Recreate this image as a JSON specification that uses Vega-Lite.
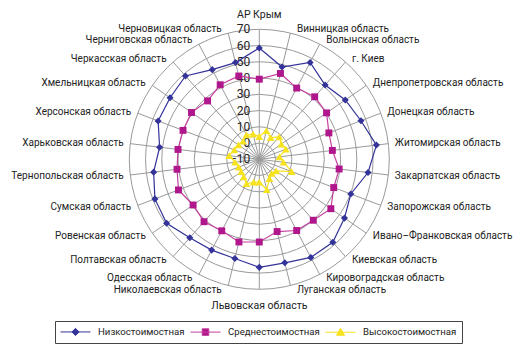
{
  "$schema": "https://vega.github.io/schema/vega-lite/v6.json",
  "width": 520,
  "height": 352,
  "padding": 0,
  "autosize": {"type": "none"},
  "background": "white",
  "config": {"view": {"stroke": null}, "font": "Roboto"},
  "datasets": {
    "regions": [
      {"i": 0, "region": "АР Крым", "Низкостоимостная": 58.5, "Среднестоимостная": 39.3, "Высокостоимостная": 4},
      {"i": 1, "region": "Винницкая область", "Низкостоимостная": 48.5, "Среднестоимостная": 44.4, "Высокостоимостная": 8.2},
      {"i": 2, "region": "Волынская область", "Низкостоимостная": 57.3, "Среднестоимостная": 39.5, "Высокостоимостная": 5},
      {"i": 3, "region": "г. Киев", "Низкостоимостная": 51.1, "Среднестоимостная": 41.4, "Высокостоимостная": 8.5},
      {"i": 4, "region": "Днепропетровская область", "Низкостоимостная": 54.3, "Среднестоимостная": 40.3, "Высокостоимостная": 6.5},
      {"i": 5, "region": "Донецкая область", "Низкостоимостная": 56.9, "Среднестоимостная": 35.8, "Высокостоимостная": 7.5},
      {"i": 6, "region": "Житомирская область", "Низкостоимостная": 62.6, "Среднестоимостная": 35.3, "Высокостоимостная": 2.5},
      {"i": 7, "region": "Закарпатская область", "Низкостоимостная": 57.4, "Среднестоимостная": 39.5, "Высокостоимостная": 5},
      {"i": 8, "region": "Запорожская область", "Низкостоимостная": 50.2, "Среднестоимостная": 39.0, "Высокостоимостная": 11.3},
      {"i": 9, "region": "Ивано–Франковская область", "Низкостоимостная": 53.7, "Среднестоимостная": 43.5, "Высокостоимостная": 2.5},
      {"i": 10, "region": "Киевская область", "Низкостоимостная": 58.2, "Среднестоимостная": 40.1, "Высокостоимостная": 1.5},
      {"i": 11, "region": "Кировоградская область", "Низкостоимостная": 58.2, "Среднестоимостная": 39.5, "Высокостоимостная": 3.5},
      {"i": 12, "region": "Луганская область", "Низкостоимостная": 55.6, "Среднестоимостная": 35.8, "Высокостоимостная": 9.3},
      {"i": 13, "region": "Львовская область", "Низкостоимостная": 56.5, "Среднестоимостная": 40.9, "Высокостоимостная": 4},
      {"i": 14, "region": "Николаевская область", "Низкостоимостная": 52.9, "Среднестоимостная": 42.4, "Высокостоимостная": 4.5},
      {"i": 15, "region": "Одесская область", "Низкостоимостная": 53.1, "Среднестоимостная": 39.7, "Высокостоимостная": 7},
      {"i": 16, "region": "Полтавская область", "Низкостоимостная": 54.5, "Среднестоимостная": 41.3, "Высокостоимостная": 4.5},
      {"i": 17, "region": "Ровенская область", "Низкостоимостная": 59.3, "Среднестоимостная": 39.5, "Высокостоимостная": 3.5},
      {"i": 18, "region": "Сумская область", "Низкостоимостная": 58.7, "Среднестоимостная": 43.2, "Высокостоимостная": 3.5},
      {"i": 19, "region": "Тернопольская область", "Низкостоимостная": 55.5, "Среднестоимостная": 41.0, "Высокостоимостная": 5},
      {"i": 20, "region": "Харьковская область", "Низкостоимостная": 51.8, "Среднестоимостная": 40.4, "Высокостоимостная": 8.7},
      {"i": 21, "region": "Херсонская область", "Низкостоимостная": 56.6, "Среднестоимостная": 40.2, "Высокостоимостная": 6.5},
      {"i": 22, "region": "Хмельницкая область", "Низкостоимостная": 56.7, "Среднестоимостная": 40.7, "Высокостоимостная": 5.6},
      {"i": 23, "region": "Черкасская область", "Низкостоимостная": 58.5, "Среднестоимостная": 38.0, "Высокостоимостная": 5},
      {"i": 24, "region": "Черниговская область", "Низкостоимостная": 52.3, "Среднестоимостная": 41.8, "Высокостоимостная": 7},
      {"i": 25, "region": "Черновицкая область", "Низкостоимостная": 51.3, "Среднестоимостная": 42.8, "Высокостоимостная": 6}
    ],
    "levels": [
      {"level": -10}, {"level": 0}, {"level": 10}, {"level": 20}, {"level": 30},
      {"level": 40}, {"level": 50}, {"level": 60}, {"level": 70}
    ]
  },
  "data": {"name": "regions"},
  "transform": [
    {"fold": ["Низкостоимостная", "Среднестоимостная", "Высокостоимостная"], "as": ["series", "value"]},
    {"calculate": "datum.i * 2 * PI / 26", "as": "a"},
    {"calculate": "(datum.value + 10) * sin(datum.a)", "as": "px"},
    {"calculate": "(datum.value + 10) * cos(datum.a)", "as": "py"}
  ],
  "layer": [
    {
      "data": {"name": "levels"},
      "transform": [{"filter": "datum.level > -10"}, {"calculate": "datum.level + 10", "as": "r"}, {"calculate": "0", "as": "c"}],
      "mark": {"type": "point", "shape": "circle", "filled": false, "color": "#9a9a9a", "strokeWidth": 1, "opacity": 1},
      "encoding": {
        "x": {"field": "c", "type": "quantitative", "scale": {"domain": [-159.57, 160.43], "nice": false, "zero": false}, "axis": null},
        "y": {"field": "c", "type": "quantitative", "scale": {"domain": [-118.58, 98.03], "nice": false, "zero": false}, "axis": null},
        "size": {"field": "r", "type": "quantitative", "scale": {"type": "pow", "exponent": 2, "domain": [0, 80], "range": [0, 67600]}, "legend": null}
      }
    },
    {
      "transform": [
        {"filter": "datum.series === 'Низкостоимостная'"},
        {"calculate": "0", "as": "c"},
        {"calculate": "80 * sin(datum.a)", "as": "sx"},
        {"calculate": "80 * cos(datum.a)", "as": "sy"}
      ],
      "mark": {"type": "rule", "color": "#9a9a9a", "strokeWidth": 1},
      "encoding": {
        "x": {"field": "c", "type": "quantitative"},
        "y": {"field": "c", "type": "quantitative"},
        "x2": {"field": "sx"},
        "y2": {"field": "sy"}
      }
    },
    {
      "data": {"name": "levels"},
      "transform": [{"calculate": "datum.level + 10", "as": "r"}, {"calculate": "0", "as": "c"}],
      "mark": {"type": "text", "align": "right", "baseline": "middle", "dx": -9, "fontSize": 12, "color": "#222222"},
      "encoding": {
        "x": {"field": "c", "type": "quantitative"},
        "y": {"field": "r", "type": "quantitative"},
        "text": {"field": "level", "type": "quantitative"}
      }
    },
    {
      "transform": [
        {"filter": "datum.series === 'Низкостоимостная' && datum.i >= 1 && datum.i <= 12"},
        {"calculate": "80 * sin(datum.a)", "as": "lx"},
        {"calculate": "82.8 * cos(datum.a)", "as": "ly"}
      ],
      "mark": {"type": "text", "align": "left", "baseline": "middle", "dx": 6.5, "fontSize": 10, "color": "#222222"},
      "encoding": {
        "x": {"field": "lx", "type": "quantitative"},
        "y": {"field": "ly", "type": "quantitative"},
        "text": {"field": "region"}
      }
    },
    {
      "transform": [
        {"filter": "datum.series === 'Низкостоимостная' && datum.i >= 14"},
        {"calculate": "80 * sin(datum.a)", "as": "lx"},
        {"calculate": "82.8 * cos(datum.a)", "as": "ly"}
      ],
      "mark": {"type": "text", "align": "right", "baseline": "middle", "dx": -6.5, "fontSize": 10, "color": "#222222"},
      "encoding": {
        "x": {"field": "lx", "type": "quantitative"},
        "y": {"field": "ly", "type": "quantitative"},
        "text": {"field": "region"}
      }
    },
    {
      "transform": [
        {"filter": "datum.series === 'Низкостоимостная' && (datum.i == 0 || datum.i == 13)"},
        {"calculate": "0", "as": "lx"},
        {"calculate": "(datum.i == 0 ? 88.8 : 90.3) * cos(datum.a)", "as": "ly"}
      ],
      "mark": {"type": "text", "align": "center", "baseline": "middle", "fontSize": 10.5, "color": "#222222"},
      "encoding": {
        "x": {"field": "lx", "type": "quantitative"},
        "y": {"field": "ly", "type": "quantitative"},
        "text": {"field": "region"}
      }
    },
    {
      "mark": {"type": "line", "interpolate": "linear-closed", "strokeWidth": 1.2},
      "encoding": {
        "x": {"field": "px", "type": "quantitative"},
        "y": {"field": "py", "type": "quantitative"},
        "order": {"field": "i", "type": "quantitative"},
        "stroke": {
          "field": "series",
          "type": "nominal",
          "scale": {"domain": ["Низкостоимостная", "Среднестоимостная", "Высокостоимостная"], "range": ["#333399", "#C6409F", "#F6E21E"]},
          "legend": {
            "title": null,
            "orient": "none",
            "legendX": 55,
            "legendY": 321,
            "direction": "horizontal",
            "columns": 3,
            "columnPadding": 3,
            "padding": 5,
            "strokeColor": "#444444",
            "fillColor": "white",
            "labelFontSize": 9.6,
            "labelColor": "#222222",
            "labelOffset": 17,
            "symbolOffset": 10,
            "symbolSize": 100,
            "symbolStrokeWidth": 1,
            "encode": {
              "symbols": {
                "update": {
                  "shape": {"signal": "datum.value === 'Низкостоимостная' ? 'M-3,0H3M0,-0.72L0.72,0L0,0.72L-0.72,0Z' : datum.value === 'Среднестоимостная' ? 'M-3,0H3M-0.66,-0.66H0.66V0.66H-0.66Z' : 'M-3,0H3M0,-0.8L0.8,0.6H-0.8Z'"},
                  "fill": {"signal": "datum.value === 'Низкостоимостная' ? '#333399' : datum.value === 'Среднестоимостная' ? '#B0178C' : '#F6E21E'"}
                }
              }
            }
          }
        }
      }
    },
    {
      "transform": [{"filter": "datum.series === 'Низкостоимостная'"}],
      "mark": {"type": "point", "shape": "diamond", "filled": true, "size": 50, "opacity": 1, "color": "#333399"},
      "encoding": {
        "x": {"field": "px", "type": "quantitative"},
        "y": {"field": "py", "type": "quantitative"}
      }
    },
    {
      "transform": [{"filter": "datum.series === 'Среднестоимостная'"}],
      "mark": {"type": "point", "shape": "square", "filled": true, "size": 48, "opacity": 1, "color": "#B0178C"},
      "encoding": {
        "x": {"field": "px", "type": "quantitative"},
        "y": {"field": "py", "type": "quantitative"}
      }
    },
    {
      "transform": [{"filter": "datum.series === 'Высокостоимостная'"}],
      "mark": {"type": "point", "shape": "triangle-up", "filled": true, "size": 60, "opacity": 1, "color": "#F6E21E"},
      "encoding": {
        "x": {"field": "px", "type": "quantitative"},
        "y": {"field": "py", "type": "quantitative"}
      }
    }
  ]
}
